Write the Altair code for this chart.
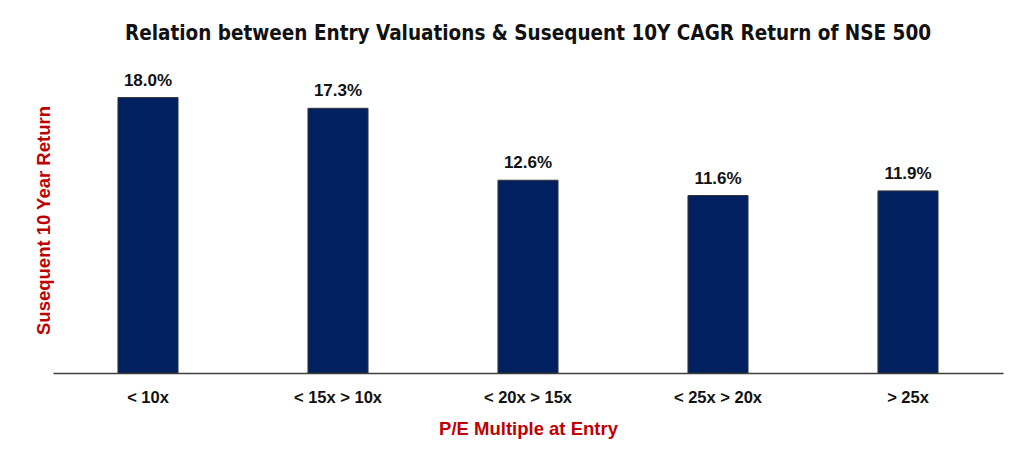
import altair as alt
import pandas as pd

categories = ["< 10x", "< 15x > 10x", "< 20x > 15x", "< 25x > 20x", "> 25x"]
returns = [18.0, 17.3, 12.6, 11.6, 11.9]
labels = ["18.0%", "17.3%", "12.6%", "11.6%", "11.9%"]

df = pd.DataFrame({"cat": categories, "ret": returns, "label": labels})

x = alt.X("cat:N", sort=categories,
          scale=alt.Scale(paddingInner=0.684, paddingOuter=0.342),
          axis=alt.Axis(title="P/E Multiple at Entry", labelAngle=0,
                        labelFont="Liberation Sans", labelFontSize=16.5, labelFontWeight="bold",
                        labelColor="#111111", labelPadding=16, ticks=False,
                        domainColor="#404040", domainWidth=1.5,
                        titleFont="Liberation Sans", titleFontSize=18.5, titleFontWeight="bold",
                        titleColor="#C00000", titlePadding=14))
y = alt.Y("ret:Q", scale=alt.Scale(domain=[0, 20], nice=False),
          axis=alt.Axis(title="Susequent 10 Year Return", labels=False, ticks=False,
                        domain=False, grid=False,
                        titleFont="Liberation Sans", titleFontSize=18.5, titleFontWeight="bold",
                        titleColor="#C00000", titlePadding=0))

bars = alt.Chart(df).mark_bar(color="#002060", stroke="#333333", strokeWidth=1).encode(x=x, y=y)
text = alt.Chart(df).mark_text(font="Liberation Sans", fontSize=17, fontWeight="bold",
                               color="#111111", baseline="alphabetic", dy=-12).encode(
    x=alt.X("cat:N", sort=categories), y="ret:Q", text="label:N")

chart = (bars + text).properties(
    width=950, height=306,
    background="white",
    autosize=alt.AutoSizeParams(type="none"),
    padding={"left": 45, "top": 59, "right": 13, "bottom": 84},
    title=alt.TitleParams("Relation between Entry Valuations & Susequent 10Y CAGR Return of NSE 500",
                          font="DejaVu Sans Condensed, Roboto Condensed, Liberation Sans Narrow, Roboto",
                          fontSize=20.5, fontWeight="bold",
                          color="#111111", anchor="middle", offset=23),
).configure_view(strokeWidth=0, stroke="transparent")

chart.save("out.html", embed_options={"renderer": "svg", "actions": False})
